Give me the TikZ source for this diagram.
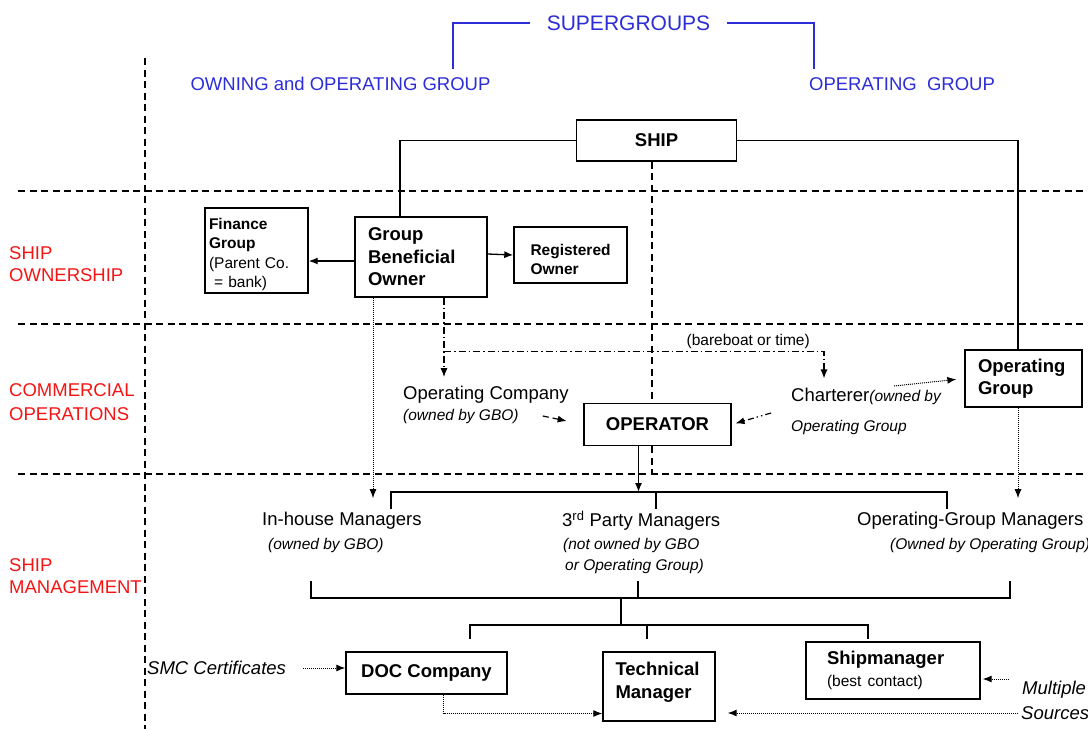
\documentclass[tikz,border=0pt]{standalone}
\usepackage{fontspec}
\setmainfont{Liberation Sans}
\usetikzlibrary{arrows.meta,positioning}
\definecolor{supblue}{RGB}{45,45,215}
\definecolor{secred}{RGB}{245,20,20}

\begin{document}
\begin{tikzpicture}[
x=1pt, y=-1pt,
boldtxt/.style={font=\fontsize{18.5}{22.5}\selectfont\bfseries},
smalltxt/.style={font=\fontsize{15.5}{19.5}\selectfont},
box/.style={
  draw,
  line width=1.4pt,
  fill=white,
  align=left,
  inner ysep=0pt
},
txt/.style={
  inner sep=0pt,
  anchor=west,
  font=\fontsize{18.5}{22.5}\selectfont
},
note/.style={
  inner sep=0pt,
  anchor=west,
  align=left,
  font=\fontsize{15.5}{21.5}\selectfont\itshape
},
sect/.style={
  text=secred,
  inner sep=0pt,
  anchor=west,
  align=left,
  font=\fontsize{18.5}{22.5}\selectfont
},
grp/.style={text=supblue, inner sep=0pt, font=\fontsize{18.5}{22.5}\selectfont},
sep/.style={line width=1.2pt, dash pattern=on 7pt off 4.5pt},
conn/.style={line width=1.3pt},
arr/.style={conn, -{Latex[length=9pt,width=7pt]}},
dotarr/.style={-{Latex[length=9pt,width=7pt]}, line width=1pt, dash pattern=on 1pt off 1pt},
ddarr/.style={-{Latex[length=9pt,width=7pt]}, line width=1.2pt, dash pattern=on 7pt off 3pt on 1.5pt off 3pt},
dasharr/.style={-{Latex[length=9pt,width=7pt]}, line width=1.2pt, dash pattern=on 6pt off 4pt},
ddotarr/.style={-{Latex[length=9pt,width=7pt]}, line width=1.2pt, dash pattern=on 6pt off 3pt on 1.5pt off 3pt on 1.5pt off 3pt}
]
\path[fill=white,use as bounding box] (0,0) rectangle (1088,729);

% section separators
\draw[sep] (145,58) -- (145,729);
\draw[sep] (18,191) -- (1088,191);
\draw[sep] (18,324) -- (1088,324);
\draw[sep] (18,474) -- (1088,474);

% section names
\node[sect] (own) at (9,264) {SHIP\\OWNERSHIP};
\node[sect, font=\fontsize{18.5}{24}\selectfont] (com) at (9,402) {COMMERCIAL\\OPERATIONS};
\node[sect] (man) at (9,576) {SHIP\\MANAGEMENT};

% supergroups
\node[grp, font=\fontsize{21}{25}\selectfont] (sg) at (628.5,23) {SUPERGROUPS};
\node[grp] (og) at (340.5,84) {OWNING and OPERATING GROUP};
\node[grp] (opg) at (902,84) {OPERATING\ \ GROUP};
\draw[supblue, line width=1.3pt] ([xshift=-17pt]sg.west) -| ([xshift=112.5pt,yshift=8pt]og.north);
\draw[supblue, line width=1.3pt] ([xshift=17pt]sg.east) -| ([xshift=-88pt,yshift=8pt]opg.north);

% ownership
\node[box, boldtxt, align=center, minimum width=160pt, minimum height=41pt] (ship) at (656.5,140.5) {SHIP};
\node[box, boldtxt, text width=106pt, inner xsep=13pt, minimum height=80pt] (gbo) at (421,257) 
  {Group\\Beneficial\\Owner};
\node[box, smalltxt, text width=95pt, inner xsep=4pt, minimum height=85pt, text height=19pt] (fin) at (256.5,250.5) 
  {\textbf{Finance}\\\textbf{Group}\\(Parent Co.\\~= bank)};
\node[box, font=\fontsize{15.5}{19}\selectfont\bfseries, text width=80pt, inner xsep=16.5pt, minimum height=56pt, text height=21pt] (reg) at (570.5,255) 
  {Registered\\Owner};

% commercial operations
\node[box, boldtxt, align=center, minimum width=147pt, minimum height=42pt] (opr) at (657.5,424.5) {OPERATOR};
\node[box, boldtxt, text width=91pt, inner xsep=13pt, minimum height=57pt] (opgrp) at (1023.5,378.5) 
  {Operating\\Group};
\node[txt] (opco) at (403,395) {Operating Company};
\node[note] (opcosub) at (403,416) {(owned by GBO)};
\node[txt] (chart) at (791,396) {Charterer{\fontsize{15.5}{19}\selectfont\itshape(owned by}};
\node[note] (chartsub) at (791,427) {Operating Group};
\node[inner sep=0pt, anchor=east, smalltxt] (bb) at (810,341) {(bareboat or time)};

% ship management
\node[txt] (inhouse) at (262,521) {In-house Managers};
\node[note] (inhsub) at (268,545) {(owned by GBO)};
\node[txt] (third) at (562,521) {3\textsuperscript{rd} Party Managers};
\node[note] (thirdsub) at (563,556) {(not owned by GBO\\\hspace{2pt}or Operating Group)};
\node[txt] (ogm) at (857,521) {Operating-Group Managers};
\node[note] (ogmsub) at (890,545) {(Owned by Operating Group)};

\node[box, boldtxt, align=center, minimum width=161pt, minimum height=42pt] (doc) at (426.5,673) {DOC Company};
\node[box, boldtxt, text width=87pt, inner xsep=12.5pt, minimum height=69pt, text depth=35pt] (tech) at (659,686.5) 
  {Technical\\Manager};
\node[box, boldtxt, text width=132pt, inner xsep=21pt, minimum height=57pt] (smg) at (893,670.5) 
  {Shipmanager\\{\fontsize{15.5}{19}\mdseries\selectfont(best contact)}};
\node[txt, font=\fontsize{18.5}{22.5}\selectfont\itshape] (smc) at (147,668) {SMC Certificates};
\node[txt, font=\fontsize{18.5}{22.5}\selectfont\itshape] (mult) at (1022,690) {Multiple};
\node[txt, font=\fontsize{18.5}{22.5}\selectfont\itshape] (src) at (1021,713) {Sources};

% ship links
\draw[conn] (ship.west) -| ([xshift=-21pt]gbo.north);
\draw[conn] (ship.east) -| ([xshift=-5.5pt]opgrp.north);
\draw[sep] ([xshift=-4.5pt]ship.south) -- ([xshift=-4.5pt]ship.south |- opr.north);
\draw[sep] ([xshift=-5.5pt]opr.south) -- ([xshift=-5.5pt]opr.south |- 0,474);

% ownership links
\draw[arr] ([yshift=-4pt]gbo.west) -- ([yshift=-4pt]gbo.west -| fin.east);
\draw[arr] ([yshift=3pt]gbo.east) -- (reg.west);
\draw[dotarr, shorten >=14pt] ([xshift=-48pt]gbo.south) -- ([xshift=-48pt]gbo.south |- inhouse.north);
\draw[ddarr, shorten >=9pt] ([xshift=23pt]gbo.south) -- ([xshift=23pt]gbo.south |- opco.north);
\coordinate (fork) at ([xshift=23pt,yshift=-54pt]gbo.south);
\draw[ddarr, shorten >=9pt] (fork) -| ([xshift=33pt]chart.north west);

% operator links
\draw[dasharr, shorten >=17pt] ([xshift=24pt]opcosub.east) -- (opr.west);
\draw[ddotarr, shorten >=4pt] ([xshift=-20pt,yshift=-17pt]chart.west) -- (opr.east);
\draw[dotarr, shorten >=8pt] ([xshift=103pt,yshift=10pt]chart.west) -- (opgrp.west);
\draw[arr] ([xshift=-19pt]opr.south) -- ([xshift=-19pt]opr.south |- 0,492);
\draw[dotarr, shorten >=14pt] ([xshift=-5.5pt]opgrp.south) -- ([xshift=-5.5pt]opgrp.south |- ogm.north);

% management tree
\coordinate (tl) at (391,509);
\coordinate (tm) at (656,509);
\coordinate (tr) at (947,509);
\draw[conn] (tl) -- ++(0,-17) -| (tr);
\draw[conn] (tm) -- ++(0,-17);
\coordinate (bl) at (311,581);
\coordinate (bm) at (638,581);
\coordinate (br) at (1010,581);
\draw[conn] (bl) -- ++(0,17) -| (br);
\draw[conn] (bm) -- ++(0,17);
\coordinate (stem) at (621,598);
\draw[conn] (stem) -- ++(0,27);
\coordinate (ll) at (470,639);
\coordinate (lm) at (647,639);
\coordinate (lr) at (868,639);
\draw[conn] (ll) -- ++(0,-14) -| (lr);
\draw[conn] (lm) -- ++(0,-14);

% sources
\draw[dotarr, shorten <=17pt] (smc.east) -- (smc.east -| doc.west);
\draw[dotarr] ([xshift=17pt]doc.south) |- ([yshift=-27pt]tech.west);
\draw[dotarr, shorten >=2pt] ([xshift=-13pt,yshift=11pt]mult.west) -- ([yshift=11pt]mult.west -| smg.east);
\draw[dotarr, shorten <=3pt, shorten >=12pt] (src.west) -- (src.west -| tech.east);
\end{tikzpicture}
\end{document}
